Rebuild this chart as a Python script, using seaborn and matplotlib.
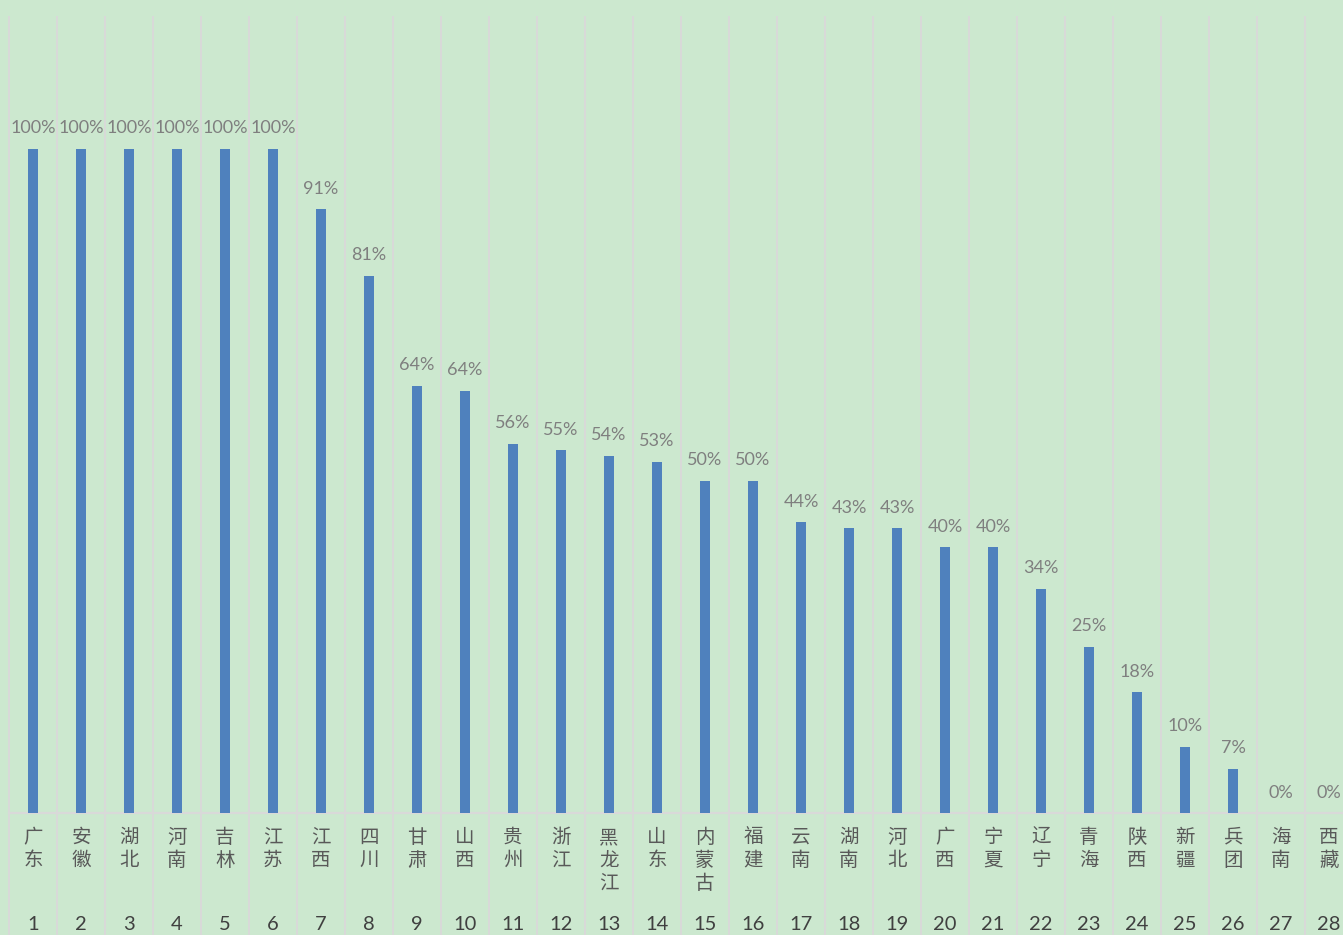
import numpy as np
import pandas as pd
import seaborn as sns
import matplotlib.pyplot as plt

# 各省完成比例（%），按从高到低排列
provinces = ['广东', '安徽', '湖北', '河南', '吉林', '江苏', '江西', '四川', '甘肃', '山西',
             '贵州', '浙江', '黑龙江', '山东', '内蒙古', '福建', '云南', '湖南', '河北', '广西',
             '宁夏', '辽宁', '青海', '陕西', '新疆', '兵团', '海南', '西藏']
ranks = list(range(1, 29))
rates = [100, 100, 100, 100, 100, 100, 90.9, 80.9, 64.3, 63.6,
         55.6, 54.6, 53.8, 52.9, 50.0, 50.0, 43.8, 42.9, 42.9, 40.0,
         40.0, 33.8, 25.0, 18.2, 10.0, 6.7, 0, 0]

BG = '#CCE8CF'
GRID = '#D9D9D9'
BAR = '#4F81BD'

sns.set_theme(style='white')
plt.rcParams['font.family'] = ['Noto Sans CJK SC', 'DejaVu Sans']
latin = ['Lato', 'Noto Sans CJK SC', 'DejaVu Sans']

df = pd.DataFrame({'province': provinces, 'rate': rates})

fig = plt.figure(figsize=(13.43, 9.35), dpi=100, facecolor=BG)
# 图区右侧略超出画布（原图被裁切）
ax = fig.add_axes([9 / 1343, 1 - 813 / 935, 1344 / 1343, (813 - 16) / 935])
ax.set_facecolor(BG)

sns.barplot(data=df, x='province', y='rate', color=BAR, width=0.19,
            saturation=1, linewidth=0, ax=ax, zorder=3)

n = len(provinces)
ax.set_xlim(-0.5, n - 0.5)
ax.set_ylim(0, 120)

# 分类分隔线，延伸到标签区
bounds = np.arange(n + 1) - 0.5
ax.vlines(bounds, -0.16, 1, transform=ax.get_xaxis_transform(),
          color=GRID, lw=1.4, clip_on=False, zorder=1)

for s in ['top', 'left', 'right']:
    ax.spines[s].set_visible(False)
ax.spines['bottom'].set_color(GRID)
ax.spines['bottom'].set_linewidth(1.6)

ax.set_yticks([])
ax.set_xlabel('')
ax.set_ylabel('')
ax.set_xticks(range(n))
ax.set_xticklabels(['\n'.join(p) for p in provinces], color='#595959',
                   fontsize=14, linespacing=1.12, va='top')
ax.tick_params(axis='x', length=0, pad=10)

for i, r in enumerate(ranks):
    ax.text(i, -0.1405, str(r), transform=ax.get_xaxis_transform(),
            ha='center', va='center', fontsize=14.5, color='#404040',
            family=latin)

labels = [f"{int(np.floor(v + 0.5))}%" for v in rates]
ax.bar_label(ax.containers[0], labels=labels, padding=9,
             color='#7F7F7F', fontsize=13, family=latin)

fig.savefig('out.png', dpi=100, facecolor=BG)
